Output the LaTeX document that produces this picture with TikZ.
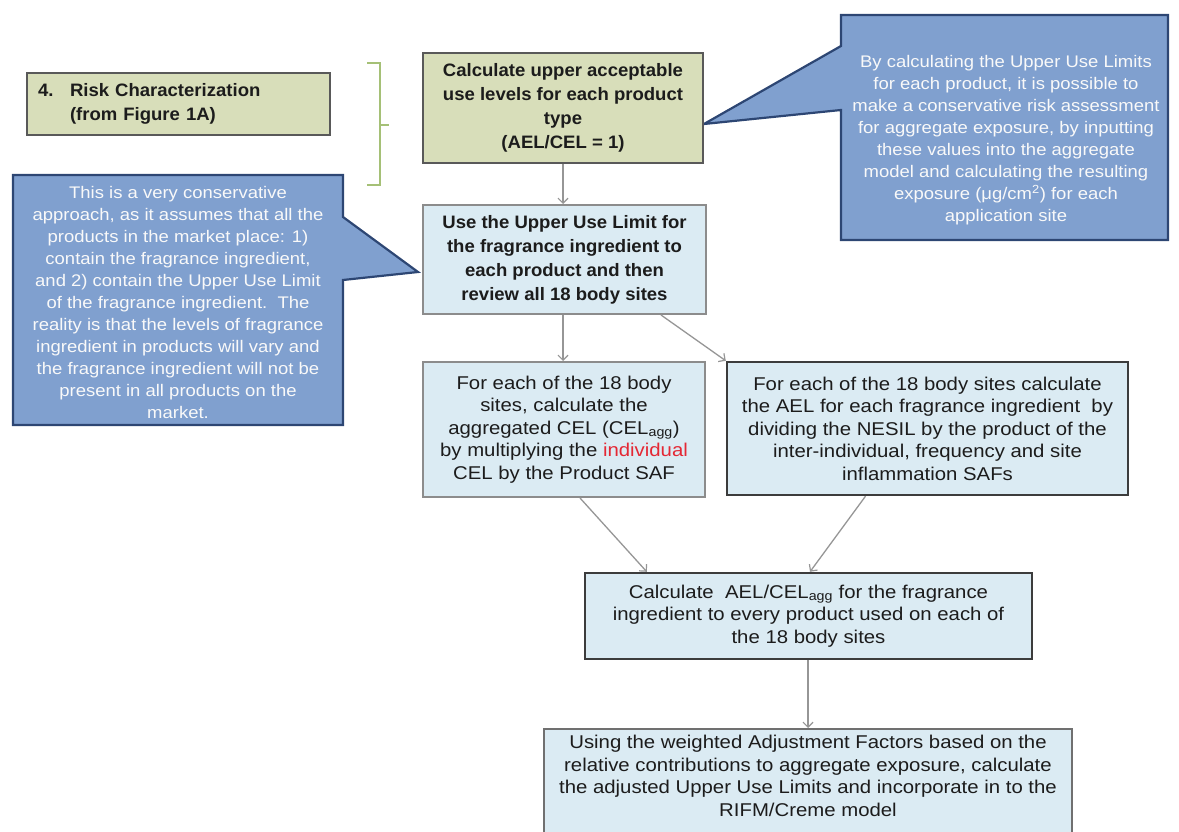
\documentclass[tikz,border=0pt]{standalone}
\usepackage{fontspec}
\setmainfont{Liberation Sans}[FakeStretch=1.1]
\newfontfamily\boldfam{Liberation Sans}[FakeStretch=1.03]
\usetikzlibrary{arrows.meta,calc}
\definecolor{greenfill}{RGB}{216,222,186}
\definecolor{bluefill}{RGB}{219,235,243}
\definecolor{callfill}{RGB}{128,160,207}
\definecolor{callline}{RGB}{45,70,115}
\definecolor{brack}{RGB}{165,192,118}
\definecolor{connc}{RGB}{150,150,150}
\definecolor{txt}{RGB}{28,28,28}
\definecolor{redtxt}{RGB}{228,40,52}
\definecolor{lightborder}{RGB}{140,140,140}
\definecolor{darkborder}{RGB}{60,60,60}
\begin{document}
\begin{tikzpicture}[x=1pt,y=-1pt,
  basebox/.style={rectangle, inner sep=0pt, align=center, text=txt,
    font=\fontsize{18.5}{22.5}\selectfont},
  gbox/.style={basebox, fill=greenfill, draw=darkborder!85, line width=1.6pt},
  lbox/.style={basebox, fill=bluefill, draw=lightborder, line width=2pt},
  dbox/.style={basebox, fill=bluefill, draw=darkborder, line width=2.4pt},
  boldtext/.style={font=\boldfam\bfseries\fontsize{18}{24}\selectfont},
  callout/.style={fill=callfill, draw=callline, line width=2.2pt, line join=miter},
  calltext/.style={align=center, text=white!95!gray, inner sep=0pt,
    font=\fontsize{16.8}{22}\selectfont},
  connector/.style={draw=connc, line width=1.3pt,
    -{Straight Barb[length=5pt,width=10pt,line width=1.2pt]}},
  bracketline/.style={draw=brack, line width=2pt}
]
\useasboundingbox (0,0) rectangle (1179,832);
\clip (0,0) rectangle (1179,832);

% callouts
\draw[callout] (13,175) -- (343,175) -- (343,217) -- (418,272) -- (343,280)
  -- (343,425) -- (13,425) -- cycle;
\node[calltext] (lefttext) at (178,302) {This is a very conservative\\
approach, as it assumes that all the\\
products in the market place: 1)\\
contain the fragrance ingredient,\\
and 2) contain the Upper Use Limit\\
of the fragrance ingredient.\ \ The\\
reality is that the levels of fragrance\\
ingredient in products will vary and\\
the fragrance ingredient will not be\\
present in all products on the\\
market.};

\draw[callout] (841,15) -- (1168,15) -- (1168,240) -- (841,240) -- (841,110)
  -- (704,124) -- (841,46) -- cycle;
\node[calltext] (righttext) at (1006,140) {By calculating the Upper Use Limits\\
for each product, it is possible to\\
make a conservative risk assessment\\
for aggregate exposure, by inputting\\
these values into the aggregate\\
model and calculating the resulting\\
exposure (μg/cm\textsuperscript{2}) for each\\
application site};

% bracket
\draw[bracketline] (367,63) -- (380,63) -- (380,185) -- (367,185);
\draw[bracketline] (380,125) -- (389,125);

% boxes
\node[gbox, minimum width=303pt, minimum height=62pt, text width=281pt,
  align=left, boldtext] (risk) at (178.5,104)
  {\begin{tabular}{@{}p{32pt}@{}l@{}}4. & Risk Characterization\\ & (from Figure 1A)\end{tabular}};

\node[gbox, boldtext, minimum width=280pt, minimum height=110pt] (calc) at (563,108)
  {Calculate upper acceptable\\use levels for each product\\type\\(AEL/CEL = 1)};

\node[lbox, boldtext, minimum width=283pt, minimum height=109pt] (use) at (564.5,259.5)
  {Use the Upper Use Limit for\\the fragrance ingredient to\\each product and then\\review all 18 body sites};

\node[lbox, minimum width=282pt, minimum height=135pt] (agg) at (564,429.5)
  {For each of the 18 body\\sites, calculate the\\aggregated CEL (CEL\textsubscript{agg})\\by multiplying the \textcolor{redtxt}{individual}\\CEL by the Product SAF};

\node[dbox, minimum width=401pt, minimum height=133pt] (ael) at (927.5,428.5)
  {For each of the 18 body sites calculate\\the AEL for each fragrance ingredient\ \ by\\dividing the NESIL by the product of the\\inter-individual, frequency and site\\inflammation SAFs};

\node[dbox, minimum width=447pt, minimum height=86pt] (ratio) at (808.5,616)
  {Calculate\ \ AEL/CEL\textsubscript{agg} for the fragrance\\ingredient to every product used on each of\\the 18 body sites};

\node[rectangle, fill=bluefill, draw=lightborder!80!black, line width=2pt,
  minimum width=528pt, minimum height=130pt, anchor=north, inner sep=0pt] (final) at (808,728) {};
\node[basebox] (finaltext) at (808,776)
  {Using the weighted Adjustment Factors based on the\\relative contributions to aggregate exposure, calculate\\the adjusted Upper Use Limits and incorporate in to the\\RIFM/Creme model};

% connectors
\draw[connector] (calc.south) -- (calc.south |- use.north);
\draw[connector] (calc.south |- use.south) -- (calc.south |- agg.north);
\draw[connector] ($(use.south east)+(-46,0)$) -- (ael.north west);
\draw[connector] ($(agg.south)+(16,0)$) -- ($(ratio.north west)+(63,0)$);
\draw[connector] ($(ael.south)+(-62,0)$) -- ($(ratio.north)+(1.5,0)$);
\draw[connector] (final.north |- ratio.south) -- (final.north);
\end{tikzpicture}
\end{document}
